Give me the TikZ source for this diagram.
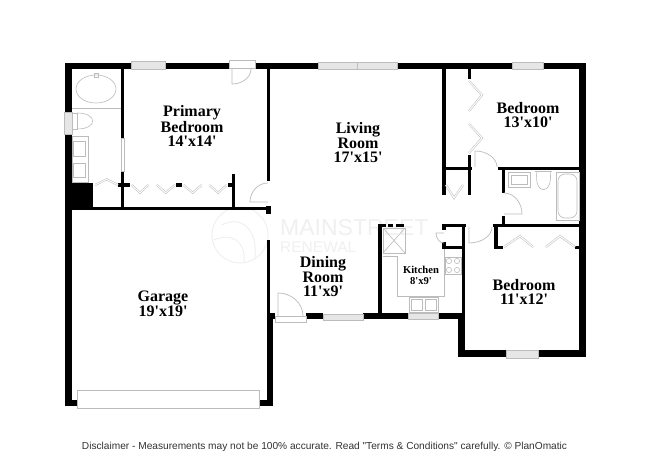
\documentclass[tikz,border=0pt]{standalone}
\usepackage{fontspec}
\usepackage{xcolor}
\setmainfont{Liberation Serif}
\newfontfamily\notefont{Liberation Sans}
\usetikzlibrary{calc}
\definecolor{fpwall}{RGB}{0,0,0}
\definecolor{fpline}{RGB}{188,188,188}
\definecolor{fppane}{RGB}{230,230,230}
\definecolor{fpmark}{RGB}{240,240,240}
\tikzset{
  wallfill/.style={fill=fpwall},
  fixture/.style={draw=fpline, line width=0.6pt},
  doorline/.style={draw=fpline, line width=0.7pt},
  windowpane/.style={draw=fpline, fill=fppane, line width=0.6pt},
  bifold/.style={draw=fpline, line width=0.5pt, double=white, double distance=1pt, line join=miter},
  roomlabel/.style={font=\fontsize{16}{14.5}\selectfont\bfseries, align=center},
  kitchenlabel/.style={font=\fontsize{10.6}{11}\selectfont\bfseries, align=center},
  marklabel/.style={text=fpmark, anchor=west, inner sep=0pt},
}
\newcommand{\doorswing}[3]{\draw[doorline] (#1) -- (#2) .. controls ($(#2)+0.55*(#3)-0.55*(#1)$) and ($(#3)+0.55*(#2)-0.55*(#1)$) .. (#3);}
\newcommand{\ftmark}{\textquotesingle}

\begin{document}
\begin{tikzpicture}[x=1pt, y=-1pt]
  \useasboundingbox[fill=white] (0,0) rectangle (650,473);

  % Watermark
  \draw[fpmark, line width=1pt] (240,235) circle (28);
  \draw[fpmark, line width=1pt] (222,225) .. controls (240,215) and (258,228) .. (255,258);
  \draw[fpmark, line width=1pt] (214,240) .. controls (232,232) and (246,242) .. (244,262);
  \node[marklabel, font=\notefont\fontsize{23}{23}\selectfont] (markname) at (280,228) {MAINSTREET};
  \node[marklabel, font=\notefont\fontsize{15.5}{15.5}\selectfont] (marksub) at (280,247) {RENEWAL};

  % Outer walls
  \fill[wallfill] (65,63) rectangle (131,69);
  \fill[wallfill] (165,63) rectangle (229,69);
  \fill[wallfill] (255,63) rectangle (318,69);
  \fill[wallfill] (397,63) rectangle (512,69);
  \fill[wallfill] (543,63) rectangle (586,69);
  \fill[wallfill] (579,63) rectangle (586,357);
  \fill[wallfill] (538,350) rectangle (586,357);
  \fill[wallfill] (458,350) rectangle (506,357);
  \fill[wallfill] (458,313) rectangle (465,357);
  \fill[wallfill] (438,313) rectangle (465,319);
  \fill[wallfill] (363,313) rectangle (408,319);
  \fill[wallfill] (306,313) rectangle (323,319);
  \fill[wallfill] (267,313) rectangle (275,319);
  \fill[wallfill] (267,313) rectangle (273,406);
  \fill[wallfill] (260,400) rectangle (273,406);
  \fill[wallfill] (65,400) rectangle (77,406);
  \fill[wallfill] (65,134) rectangle (72,406);
  \fill[wallfill] (65,63) rectangle (72,112);

  % Primary bedroom and bath
  \fill[wallfill] (121,69) rectangle (124,138);
  \fill[wallfill] (121,171) rectangle (124,207);
  \fill[wallfill] (72,183) rectangle (93,207);
  \fill[wallfill] (72,207) rectangle (268,210);
  \fill[wallfill] (232,174) rectangle (235,207);
  \fill[wallfill] (118,183) rectangle (130,187);
  \fill[wallfill] (176,183) rectangle (182,187);
  \fill[wallfill] (228,183) rectangle (232,187);

  % Garage and dining room side
  \fill[wallfill] (267,69) rectangle (270,181);
  \fill[wallfill] (266,206) rectangle (271,214);
  \fill[wallfill] (267,240) rectangle (270,313);

  % Kitchen and pantry
  \fill[wallfill] (378,225) rectangle (382,313);
  \fill[wallfill] (378,224) rectangle (386,227);
  \fill[wallfill] (388,224) rectangle (393,227);
  \fill[wallfill] (396,224) rectangle (404,227);
  \fill[wallfill] (442,224) rectangle (466,227);
  \fill[wallfill] (462,224) rectangle (465,313);
  \fill[wallfill] (442,246) rectangle (463,249);
  \fill[wallfill] (442,224) rectangle (446,230);
  \fill[wallfill] (442,242) rectangle (446,249);

  % Closets, hall and bath on the right
  \fill[wallfill] (442,69) rectangle (446,195);
  \fill[wallfill] (468,69) rectangle (471,79);
  \fill[wallfill] (468,155) rectangle (471,195);
  \fill[wallfill] (442,167) rectangle (472,170);
  \fill[wallfill] (498,167) rectangle (579,170);
  \fill[wallfill] (502,170) rectangle (505,193);
  \fill[wallfill] (502,216) rectangle (505,224);
  \fill[wallfill] (493,224) rectangle (579,227);
  \fill[wallfill] (494,224) rectangle (498,249);
  \fill[wallfill] (494,246) rectangle (503,249);
  \fill[wallfill] (575,246) rectangle (579,249);

  % Windows
  \draw[windowpane] (131,61) rectangle (165,69);
  \draw[windowpane] (318,62) rectangle (357,69);
  \draw[windowpane] (357,62) rectangle (397,69);
  \draw[windowpane] (512,62) rectangle (543,69);
  \draw[windowpane] (506,350) rectangle (538,358);
  \draw[windowpane] (323,314) rectangle (363,320);
  \draw[windowpane] (408,313) rectangle (438,319);
  \draw[windowpane] (64,112) rectangle (72,134);
  \draw[fixture, fill=white] (121,138) rectangle (124,171);
  \draw[fixture, fill=white] (229,60) rectangle (255,68);
  \draw[fixture, fill=white] (275,316) rectangle (306,322);
  \draw[fixture, fill=white] (77,390) rectangle (259,408);

  % Doors
  \doorswing{232,69}{232,84}{251,69}
  \doorswing{268,202}{250,202}{268,183}
  \doorswing{278,316}{278,293}{303,316}
  \doorswing{475,167}{475,151}{497,167}
  \doorswing{504,214}{522,214}{504,193}
  \doorswing{469,227}{469,243}{492,227}
  \doorswing{444,233}{436,233}{444,243}

  % Closet doors
  \foreach \xa/\xb/\xc/\ym in {131.7/140/148.3/192.7, 156.7/165.7/175/192.7, 183.3/192.7/201.7/192.7, 209.3/218/226.7/192.7, 95/106.7/118/179.3, 446/454/463/198}
    \draw[bifold] (\xa,185) -- (\xb,\ym) -- (\xc,185);
  \draw[bifold] (469,81) -- (482,95) -- (469,111);
  \draw[bifold] (469,124) -- (482,138) -- (469,153);
  \draw[bifold] (504,247) -- (520,236) -- (533,247);
  \draw[bifold] (546,247) -- (560,236) -- (575,247);

  % Primary bath fixtures
  \draw[fixture] (72,108) -- (121,108);
  \draw[fixture] (96,89) ellipse (20 and 14);
  \draw[fixture] (94,73) rectangle (98,77);
  \draw[fixture] (72,113) rectangle (77,129);
  \draw[fixture] (77,113) .. controls (98,113) and (98,129) .. (77,129);
  \draw[fixture] (72,136) rectangle (88,182);
  \draw[fixture] (73,141) rectangle (85,156);
  \draw[fixture] (73,163) rectangle (85,177);

  % Hall bath fixtures
  \draw[fixture] (508,172) rectangle (530,187);
  \draw[fixture] (511,175) rectangle (527,184);
  \draw[fixture] (535,171) -- (552,171);
  \draw[fixture] (537,171) .. controls (533,196) and (554,196) .. (550,171);
  \draw[fixture] (556,172) rectangle (579,220);
  \draw[fixture, rounded corners=7pt] (558,174) rectangle (577,218);

  % Kitchen fixtures
  \draw[fixture] (383,228) rectangle (405,253);
  \draw[fixture] (383,228) -- (405,253);
  \draw[fixture] (405,228) -- (383,253);
  \draw[fixture] (383,256) -- (397,256) -- (397,296) -- (444,296) -- (444,249);
  \draw[fixture] (445,257) rectangle (461,274);
  \foreach \xb/\yb in {449/261, 457/261, 449/270, 457/270}
    \draw[fixture] (\xb,\yb) circle (2.6);
  \draw[fixture] (409,297) rectangle (438,312);
  \draw[fixture] (411,299) rectangle (422,310);
  \draw[fixture] (425,299) rectangle (436,310);

  % Room labels
  \node[roomlabel] (primary) at (192,126) {Primary\\Bedroom\\14\ftmark x14\ftmark};
  \node[roomlabel] (living) at (358,143) {Living\\Room\\17\ftmark x15\ftmark};
  \node[roomlabel] (bedroomtop) at (528,115) {Bedroom\\13\ftmark x10\ftmark};
  \node[roomlabel] (dining) at (323,277) {Dining\\Room\\11\ftmark x9\ftmark};
  \node[kitchenlabel] (kitchen) at (421,275) {Kitchen\\8\ftmark x9\ftmark};
  \node[roomlabel] (bedroomlow) at (524,292) {Bedroom\\11\ftmark x12\ftmark};
  \node[roomlabel] (garage) at (163,304) {Garage\\19\ftmark x19\ftmark};

  % Disclaimer
  \node[font=\notefont\fontsize{10.15}{12}\selectfont, text=black!80] (disclaimer) at (324.5,447) {Disclaimer - Measurements may not be 100\% accurate. Read "Terms \& Conditions" carefully. © PlanOmatic};
\end{tikzpicture}
\end{document}
